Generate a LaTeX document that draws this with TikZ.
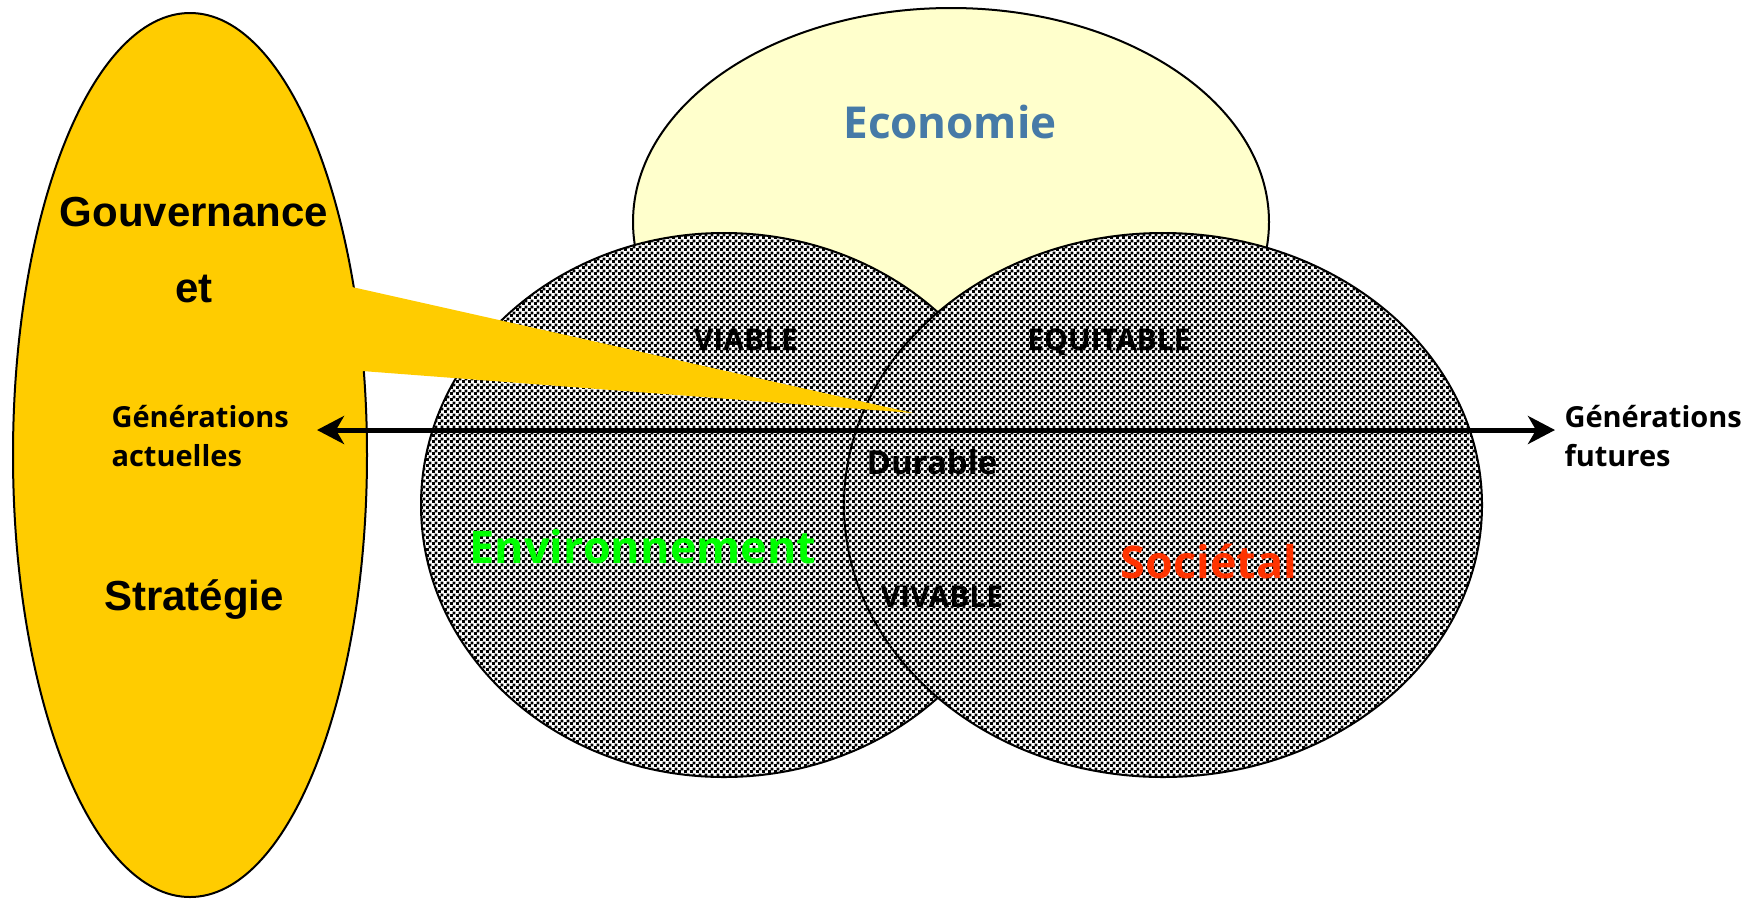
\documentclass[tikz,border=0pt]{standalone}
\usepackage{fontspec}
\setmainfont{Liberation Sans}
\newfontfamily\osans{Open Sans}
\usetikzlibrary{shapes.geometric,patterns,arrows.meta}

\definecolor{gold}{RGB}{255,204,0}
\definecolor{pale}{RGB}{255,255,204}
\definecolor{ecoblue}{RGB}{70,122,167}
\definecolor{vert}{RGB}{0,255,0}
\definecolor{rouge}{RGB}{255,51,0}

\pgfdeclarepatternformonly{damier}{\pgfpointorigin}{\pgfqpoint{6pt}{6pt}}{\pgfqpoint{6pt}{6pt}}{%
	\pgfpathrectangle{\pgfpointorigin}{\pgfqpoint{3.4pt}{3.4pt}}%
	\pgfpathrectangle{\pgfqpoint{3pt}{3pt}}{\pgfqpoint{3.4pt}{3.4pt}}%
	\pgfusepath{fill}}

\tikzset{
	zone/.style={ellipse, draw, line width=2pt, inner sep=0pt, preaction={fill=white}, pattern=damier},
	big/.style={anchor=base, font=\bfseries\fontsize{42}{48}\selectfont},
	pillar/.style={anchor=base, font=\osans\bfseries\fontsize{45}{54}\selectfont},
	quali/.style={anchor=base, font=\osans\bfseries\fontsize{30}{36}\selectfont},
	gen/.style={anchor=base west, align=left, font=\osans\bfseries\fontsize{29}{39}\selectfont},
	axis/.style={line width=5pt, {Stealth[length=27pt,width=28pt,inset=8pt]}-{Stealth[length=27pt,width=28pt,inset=8pt]}}
}

\begin{document}
\begin{tikzpicture}[x=1pt, y=-1pt]
	\useasboundingbox (0,0) rectangle (1758,898);

	% the three pillars
	\node[ellipse, draw, line width=2pt, fill=pale, inner sep=0pt, minimum width=636pt, minimum height=428pt] (eco) at (951,222) {};
	\node[zone, minimum width=606pt, minimum height=544pt] (env) at (724,505) {};
	\node[zone, minimum width=638pt, minimum height=544pt] (soc) at (1163,505) {};

	% governance bubble
	\node[ellipse, draw, line width=2pt, fill=gold, inner sep=0pt, minimum width=354pt, minimum height=884pt] (gov) at (190,455) {};
	\coordinate (wtop) at (352,287);
	\coordinate (wbot) at (362,371);
	\coordinate (tip) at (913,413);
	\fill[gold] (wtop) -- (tip) -- (wbot) -- (336,371) -- (336,287) -- cycle;

	% time axis
	\coordinate (now) at (317,430);
	\coordinate (later) at (1555,430);
	\draw[axis] (now) -- (later);

	\node[big] (gouv) at (194,226) {Gouvernance};
	\node[big] (et) at (194,302) {et};
	\node[big] (strat) at (194,610) {Stratégie};

	\node[gen] (actu) at (108,466) {Générations\\actuelles};
	\node[gen] (futu) at (1561,466) {Générations\\futures};

	\node[pillar, text=ecoblue, font=\osans\bfseries\fontsize{44}{52}\selectfont] (economie) at (950,138) {Economie};
	\node[pillar, text=vert] (environ) at (643,563) {Environnement};
	\node[pillar, text=rouge] (societal) at (1209,578) {Sociétal};

	\node[quali] (viable) at (746,350) {VIABLE};
	\node[quali] (equit) at (1109,350) {EQUITABLE};
	\node[quali] (vivable) at (942,607) {VIVABLE};
	\node[quali, font=\osans\bfseries\fontsize{33}{40}\selectfont] (durable) at (932,474) {Durable};
\end{tikzpicture}
\end{document}
